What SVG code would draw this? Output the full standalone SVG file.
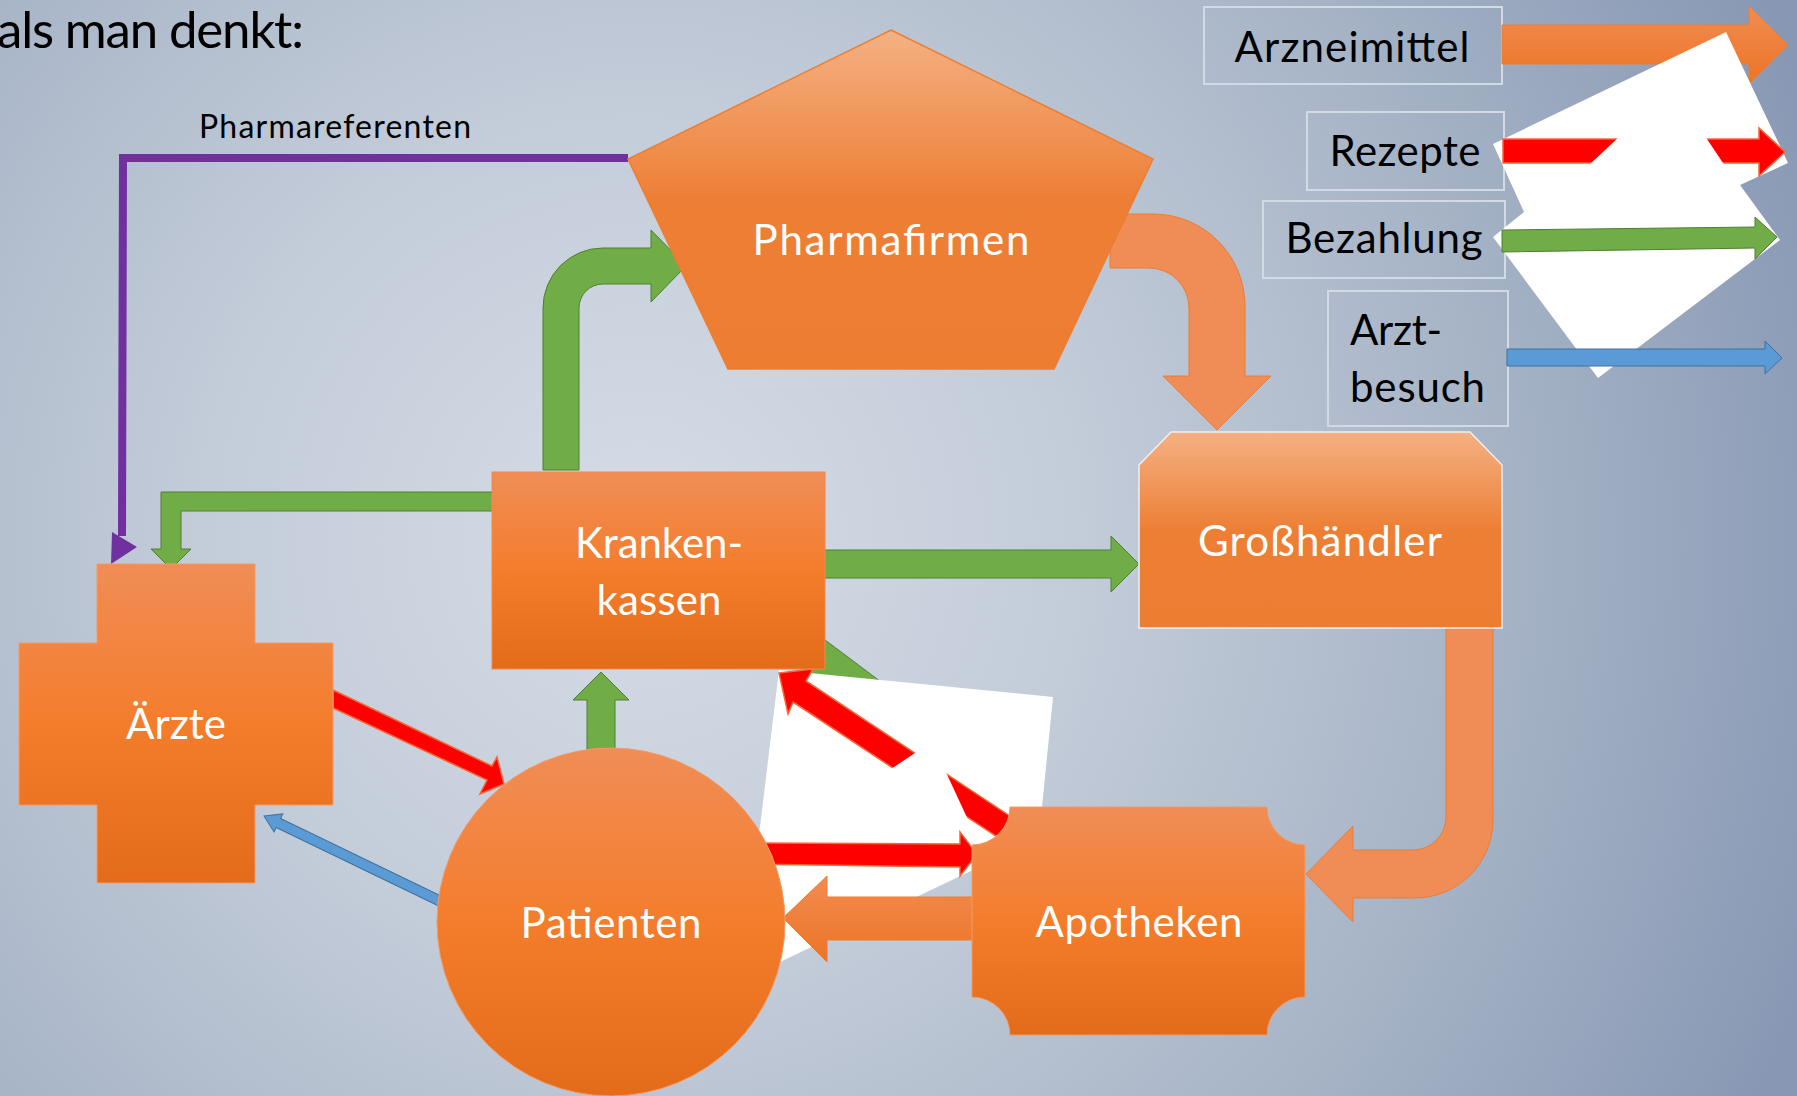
<svg xmlns="http://www.w3.org/2000/svg" width="1797" height="1096" viewBox="0 0 1797 1096">
<defs>
<radialGradient id="bg" gradientUnits="userSpaceOnUse" cx="640" cy="540" r="1250">
<stop offset="0" stop-color="#D5DCE6"/><stop offset="0.35" stop-color="#C3CCD9"/><stop offset="0.67" stop-color="#A8B5C7"/><stop offset="1" stop-color="#8898B4"/>
</radialGradient>
<linearGradient id="gNode" x1="0" y1="0" x2="0" y2="1">
<stop offset="0" stop-color="#F08D56"/><stop offset="0.5" stop-color="#F47D2C"/><stop offset="1" stop-color="#E36B1A"/>
</linearGradient>
<linearGradient id="gPeach" x1="0" y1="0" x2="0" y2="1">
<stop offset="0" stop-color="#F4B183"/><stop offset="0.5" stop-color="#ED7F35"/><stop offset="1" stop-color="#ED7D31"/>
</linearGradient>
<linearGradient id="gArrow" x1="0" y1="0" x2="0" y2="1">
<stop offset="0" stop-color="#F28C50"/><stop offset="1" stop-color="#EC7426"/>
</linearGradient>
<style>
.lbl{font-family:Lato,"Open Sans",sans-serif;font-size:42px;fill:#FFFFFF;text-anchor:middle}
.leg{font-family:Lato,"Open Sans",sans-serif;font-size:42px;fill:#000000}
.box{fill:none;stroke:#D3DAE4;stroke-width:2}
.grn{fill:#70AD47;stroke:#507E32;stroke-width:1}
.red{fill:#FF0000;stroke:#F2683A;stroke-width:1.5}
.org{fill:#F08C55;stroke:#ED7D31;stroke-width:1}
.blu{fill:#5B9BD5;stroke:#41719C;stroke-width:1}
.wht{fill:#FFFFFF}
</style>
</defs>
<rect width="1797" height="1096" fill="url(#bg)"/>

<g id="title">
<text x="-3" y="48" font-family="Lato,'Open Sans',sans-serif" font-size="51" fill="#000" textLength="307" lengthAdjust="spacing">als man denkt:</text>
<text x="199" y="138" font-family="Lato,'Open Sans',sans-serif" font-size="32" fill="#000" textLength="272" lengthAdjust="spacing">Pharmareferenten</text>
</g>

<g id="connectors">
<!-- hidden green arrow under pasted image -->
<polygon class="grn" points="785,610 1000,771 980,800 765,640"/>
<!-- pasted white image (lower) -->
<polygon class="wht" points="779,670 1053,697 1042,807 1040,860 973,870 780,962 745,900 760,827"/>
<!-- Apotheken -> Krankenkassen (Rezept) -->
<polygon class="red" points="779,673 813,669 806,681 1040,836 1020,852 793,702 788,714"/>
<polygon class="wht" points="918,751 944,768 970,824 888,771"/>
<!-- Patienten -> Apotheken -->
<polygon class="red" points="740,843 960,844 960,832 977,854 960,876 960,867 740,864"/>
<!-- Pharmareferenten: Pharmafirmen -> Aerzte -->
<polyline points="628,158 123,158 122,536" fill="none" stroke="#7030A0" stroke-width="8"/>
<polygon points="112,532 137,547 111,564" fill="#7030A0"/>
<!-- Krankenkassen -> Aerzte -->
<path class="grn" d="M495,492 H161 V549 H151 L171,569 L191,549 H181 V511 H495 Z"/>
<!-- Krankenkassen -> Pharmafirmen -->
<path class="grn" d="M543,470 V308 A60,60 0 0 1 603,248 H651 V230 L686,266 L651,302 V284 H603 A24,24 0 0 0 579,308 V470 Z"/>
<!-- Krankenkassen -> Grosshaendler -->
<path class="grn" d="M824,550 H1111 V536 L1139,564 L1111,592 V578 H824 Z"/>
<!-- Patienten -> Krankenkassen -->
<path class="grn" d="M587,752 V700 H573 L601,672 L629,700 H615 V752 Z"/>
<!-- Pharmafirmen -> Grosshaendler -->
<path class="org" d="M1110,214 H1153 A92,92 0 0 1 1245,306 V376 H1271 L1217,430 L1163,376 H1189 V308 A40,40 0 0 0 1149,268 H1110 Z"/>
<!-- Grosshaendler -> Apotheken -->
<path class="org" d="M1446,620 H1493 V820 A78,78 0 0 1 1415,898 H1353 V922 L1306,874 L1353,826 V850 H1413 A33,33 0 0 0 1446,817 Z"/>
<!-- Apotheken -> Patienten -->
<path d="M975,897 H827 V876 L783,918 L827,962 V940 H975 Z" fill="url(#gArrow)" stroke="#ED7D31" stroke-width="1"/>
<!-- Aerzte -> Patienten -->
<polygon class="red" points="333,690 492,766 497,757 504,784 480,794 487,780 333,708"/>
<!-- Patienten -> Aerzte -->
<polygon class="blu" transform="translate(264,816) rotate(25.8)" points="0,0 16,-10 16,-5 200,-5 200,5 16,5 16,10"/>
</g>

<g id="node-pharmafirmen">
<polygon points="891,30 1153,159 1054,369 728,369 628,159" fill="url(#gPeach)" stroke="#ED7D31" stroke-width="1.5"/>
<text class="lbl" x="891" y="255" textLength="277" lengthAdjust="spacing">Pharmafirmen</text>
</g>
<g id="node-krankenkassen">
<rect x="492" y="472" width="333" height="197" fill="url(#gNode)" stroke="#F0894F" stroke-width="1"/>
<text class="lbl" x="659" y="558" textLength="168" lengthAdjust="spacing">Kranken-</text>
<text class="lbl" x="659" y="615" textLength="125" lengthAdjust="spacing">kassen</text>
</g>
<g id="node-grosshaendler">
<path d="M1139,465 L1171,432 H1470 L1502,465 V628 H1139 Z" fill="url(#gPeach)" stroke="#EEF0F4" stroke-width="1.5"/>
<text class="lbl" x="1320" y="556" textLength="244" lengthAdjust="spacing">Großhändler</text>
</g>
<g id="node-aerzte">
<path d="M97,564 H255 V643 H333 V805 H255 V883 H97 V805 H19 V643 H97 Z" fill="url(#gNode)" stroke="#F29A66" stroke-width="1"/>
<text class="lbl" x="176" y="739" textLength="100" lengthAdjust="spacing">Ärzte</text>
</g>
<g id="node-patienten">
<circle cx="611" cy="922" r="174" fill="url(#gNode)" stroke="#F29A66" stroke-width="1"/>
<text class="lbl" x="611" y="938" textLength="181" lengthAdjust="spacing">Patienten</text>
</g>
<g id="node-apotheken">
<path d="M1010,807 H1267 A38,38 0 0 0 1305,845 V997 A38,38 0 0 0 1267,1035 H1010 A38,38 0 0 0 972,997 V845 A38,38 0 0 0 1010,807 Z" fill="url(#gNode)" stroke="#F29A66" stroke-width="1"/>
<text class="lbl" x="1139" y="937" textLength="207" lengthAdjust="spacing">Apotheken</text>
</g>

<g id="legend">
<rect class="box" x="1204" y="7" width="298" height="77"/>
<rect class="box" x="1307" y="112" width="197" height="78"/>
<rect class="box" x="1263" y="201" width="242" height="77"/>
<rect class="box" x="1328" y="291" width="180" height="135"/>
<text class="leg" x="1352" y="62" text-anchor="middle" textLength="235" lengthAdjust="spacing">Arzneimittel</text>
<text class="leg" x="1405" y="166" text-anchor="middle" textLength="151" lengthAdjust="spacing">Rezepte</text>
<text class="leg" x="1384" y="253" text-anchor="middle" textLength="197" lengthAdjust="spacing">Bezahlung</text>
<text class="leg" x="1350" y="345" textLength="92" lengthAdjust="spacing">Arzt-</text>
<text class="leg" x="1350" y="402" textLength="135" lengthAdjust="spacing">besuch</text>
<path d="M1502,25 H1749 V6 L1788,45 L1749,84 V64 H1502 Z" fill="url(#gArrow)" stroke="#ED7D31" stroke-width="1"/>
<polygon class="wht" points="1726,32 1788,163 1740,185 1780,240 1598,378 1493,237 1524,212 1493,144"/>
<path class="red" d="M1503,139 H1759 V128 L1785,152 L1759,176 V163 H1503 Z"/>
<polygon class="wht" points="1620,136 1705,136 1725,166 1588,166"/>
<path class="grn" d="M1502,230 L1755,227 V217 L1777,237 L1755,259 V248 L1502,252 Z"/>
<path class="blu" d="M1507,349 H1765 V341 L1782,358 L1765,374 V366 H1507 Z"/>
</g>
</svg>
